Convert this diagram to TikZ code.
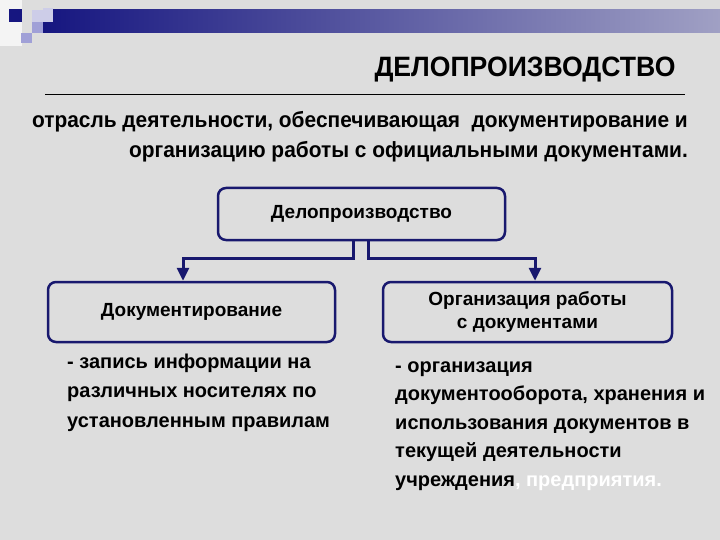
\documentclass[tikz,border=0pt]{standalone}
\usepackage{fontspec}
\setmainfont{Liberation Sans}
\newfontfamily\titlefont[FakeStretch=0.95]{Liberation Sans}
\usetikzlibrary{arrows.meta,positioning}

\definecolor{bggray}{RGB}{221,221,221}
\definecolor{navy}{RGB}{24,24,110}
\definecolor{barleft}{RGB}{22,22,128}
\definecolor{barright}{RGB}{160,160,196}
\definecolor{lilac}{RGB}{160,160,215}
\definecolor{palelilac}{RGB}{205,205,232}

\begin{document}
\begin{tikzpicture}[x=1pt,y=-1pt,
    box/.style={draw=navy, line width=2.5pt, rounded corners=8pt, fill=bggray,
      font=\bfseries\fontsize{19}{23}\selectfont, align=center},
    link/.style={navy, line width=3pt},
    tip/.style={-{Triangle[width=12pt,length=13pt]}},
    body/.style={font=\bfseries\fontsize{20}{29.5}\selectfont, align=left, inner sep=0pt}]
    % Background
    \fill[bggray] (0,0) rectangle (720,540);
    \useasboundingbox (0,0) rectangle (720,540);

    % Corner decoration
    \fill[white, opacity=0.7] (0,0) rectangle (22,46);
    \shade[left color=barleft, right color=barright] (43,10) rectangle (720,33);
    \fill[palelilac] (32,10) rectangle (43,22);
    \fill[palelilac] (43,8) rectangle (53,22);
    \fill[barleft] (9,9) rectangle (22,22);
    \fill[lilac] (32,22) rectangle (43,33);
    \fill[lilac] (21,33) rectangle (32,43);

    % Heading
    \node[font=\titlefont\bfseries\fontsize{28}{32}\selectfont, anchor=base] (title) at (525,77) {ДЕЛОПРОИЗВОДСТВО};
    \coordinate (ruleL) at (45,94);
    \coordinate (ruleR) at (685,94);
    \draw[line width=0.8pt] (ruleL) -- (ruleR);
    \node[font=\titlefont\bfseries\fontsize{22}{30}\selectfont, align=right, anchor=base east, inner sep=0pt] (def) at (688,158)
      {отрасль деятельности, обеспечивающая\ \ документирование и\\
       организацию работы с официальными документами.};

    % Boxes
    \node[box, minimum width=287pt, minimum height=52pt] (top) at (361.5,214) {Делопроизводство};
    \node[box, minimum width=287pt, minimum height=60pt] (doc) at (191.5,312) {Документирование};
    \node[box, minimum width=289pt, minimum height=60pt] (org) at (527.5,312) {Организация работы\\с документами};

    % Connectors
    \coordinate (kl) at (183,258);
    \coordinate (kr) at (535,258);
    \draw[link, tip] ([xshift=-8.5pt]top.south) |- (kl) -- (kl |- doc.north);
    \draw[link, tip] ([xshift=6.5pt]top.south) |- (kr) -- (kr |- org.north);

    % Descriptions
    \node[body, anchor=base west] (docText) at (67,427)
      {- запись информации на\\различных носителях по\\установленным правилам};
    \node[body, anchor=base west, font=\bfseries\fontsize{20}{28.5}\selectfont] (orgText) at (395,486)
      {- организация\\документооборота, хранения и\\использования документов в\\текущей деятельности\\учреждения{\color{white}, предприятия.}};
\end{tikzpicture}
\end{document}
